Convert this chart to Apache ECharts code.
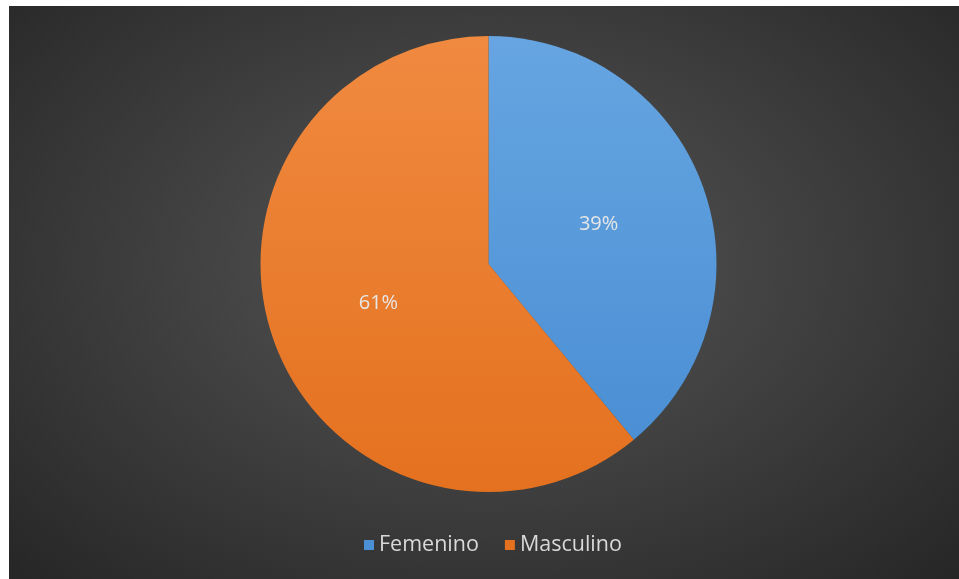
<!DOCTYPE html>
<html>
<head>
<meta charset="utf-8">
<script src="https://cdn.jsdelivr.net/npm/echarts@6/dist/echarts.min.js"></script>
<style>
  html, body { margin: 0; padding: 0; background: #ffffff; width: 959px; height: 579px; overflow: hidden; }
  #chart {
    position: absolute; left: 9px; top: 6px; width: 950px; height: 573px;
    background: radial-gradient(ellipse at 50% 45%, #575757 0%, #414141 45%, #262626 100%);
  }
</style>
</head>
<body>
<div id="chart"></div>
<script>
// Gender breakdown
const categories = ['Femenino', 'Masculino'];
const shares = [39, 61];
const sliceColors = [
  ['#66A5E1', '#4B8FD4'],
  ['#F08A40', '#E4711F']
];

const chart = echarts.init(document.getElementById('chart'), null, { renderer: 'canvas' });

const pieData = categories.map((name, i) => ({
  name: name,
  value: shares[i],
  itemStyle: {
    color: new echarts.graphic.LinearGradient(0, 0, 0, 1, [
      { offset: 0, color: sliceColors[i][0] },
      { offset: 1, color: sliceColors[i][1] }
    ])
  }
}));

chart.setOption({
  backgroundColor: 'transparent',
  animation: false,
  legend: {
    data: categories.map((name, i) => ({ name: name, itemStyle: { color: sliceColors[i][1] } })),
    bottom: 18,
    left: 350,
    icon: 'rect',
    itemWidth: 10,
    itemHeight: 10,
    itemGap: 26,
    textStyle: { color: '#D9D9D9', fontSize: 21.5, fontFamily: '"Open Sans", Lato, sans-serif' }
  },
  series: [{
    type: 'pie',
    center: [479.5, 258],
    radius: 228,
    startAngle: 90,
    clockwise: true,
    data: pieData,
    label: {
      show: true,
      position: 'inside',
      formatter: '{d}%',
      color: '#E6E6E6',
      fontSize: 20,
      fontFamily: '"Open Sans", Lato, sans-serif'
    },
    labelLine: { show: false },
    itemStyle: { borderWidth: 0 },
    emphasis: { disabled: true }
  }]
});
</script>
</body>
</html>
